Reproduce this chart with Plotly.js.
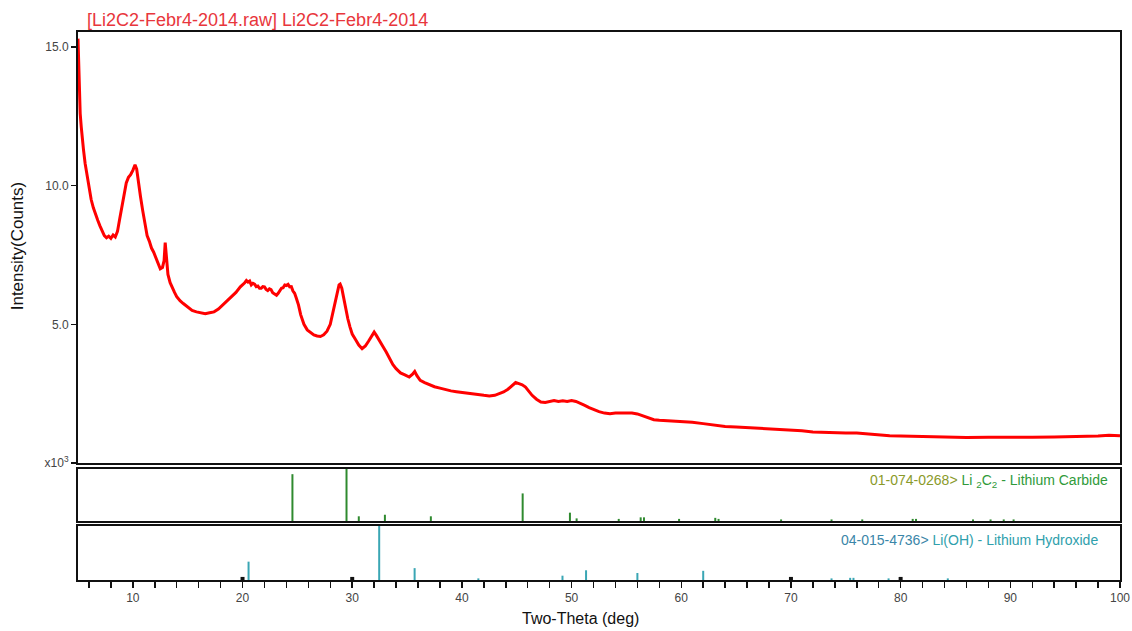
<!DOCTYPE html>
<html>
<head>
<meta charset="utf-8">
<script src="https://cdn.plot.ly/plotly-3.0.1.min.js"></script>
<style>html,body{margin:0;padding:0;background:#fff;}#chart{width:1132px;height:631px;}</style>
</head>
<body>
<div id="chart"></div>
<script>
// Measured pattern (2-theta in degrees, intensity in thousands of counts)
const twoTheta = [5.0,5.05,5.1,5.15,5.2,5.3,5.4,5.5,5.65,5.8,6.0,6.2,6.4,6.6,6.8,7.0,7.2,7.4,7.6,7.8,8.0,8.2,8.4,8.6,8.8,9.0,9.2,9.4,9.6,9.8,10.0,10.2,10.35,10.5,10.7,10.9,11.1,11.3,11.5,11.7,11.9,12.1,12.3,12.5,12.7,12.85,12.95,13.05,13.2,13.4,13.6,13.8,14.0,14.3,14.6,15.0,15.4,15.8,16.2,16.6,17.0,17.4,17.8,18.2,18.6,19.0,19.4,19.8,20.0,20.2,20.35,20.5,20.65,20.8,20.95,21.1,21.25,21.4,21.55,21.7,21.85,22.0,22.15,22.3,22.45,22.6,22.75,22.9,23.1,23.25,23.4,23.55,23.7,23.85,24.0,24.15,24.3,24.45,24.6,24.75,24.9,25.1,25.3,25.6,25.9,26.2,26.5,26.8,27.1,27.4,27.7,28.0,28.3,28.5,28.7,28.8,28.9,29.05,29.2,29.4,29.6,29.8,30.0,30.3,30.6,30.9,31.2,31.5,31.8,32.0,32.2,32.5,32.8,33.1,33.4,33.7,34.0,34.4,34.8,35.2,35.5,35.7,35.9,36.2,36.6,37.0,37.5,38.0,38.5,39.0,39.5,40.0,40.5,41.0,41.5,42.0,42.5,43.0,43.4,43.8,44.2,44.6,44.9,45.2,45.5,45.8,46.1,46.4,46.8,47.2,47.6,48.0,48.4,48.8,49.2,49.6,50.0,50.4,50.8,51.2,51.6,52.0,52.5,53.0,53.5,54.0,54.5,55.0,55.5,56.0,56.5,57.0,57.5,58.0,59.0,60.0,61.0,62.0,63.0,64.0,65.0,66.0,67.0,68.0,69.0,70.0,71.0,72.0,73.0,74.0,75.0,76.0,77.0,78.0,79.0,80.0,82.0,84.0,86.0,88.0,90.0,92.0,94.0,96.0,98.0,99.0,100.0];
const intensity = [15.3,14.6,13.6,12.9,12.6,12.1,11.6,11.3,10.8,10.4,9.9,9.5,9.2,8.95,8.75,8.55,8.4,8.2,8.12,8.18,8.1,8.22,8.15,8.35,8.8,9.2,9.7,10.1,10.3,10.4,10.55,10.75,10.6,10.1,9.6,9.1,8.6,8.2,8.0,7.75,7.6,7.4,7.2,7.0,7.05,7.3,7.95,7.4,6.8,6.5,6.3,6.15,6.0,5.85,5.75,5.62,5.5,5.45,5.42,5.38,5.42,5.45,5.55,5.7,5.85,6.0,6.15,6.35,6.42,6.5,6.58,6.52,6.56,6.42,6.48,6.45,6.36,6.38,6.3,6.3,6.36,6.35,6.26,6.22,6.28,6.25,6.14,6.1,6.05,6.12,6.2,6.3,6.32,6.42,6.4,6.44,6.35,6.36,6.2,6.12,5.95,5.7,5.35,5.0,4.8,4.7,4.62,4.58,4.56,4.62,4.75,5.0,5.5,5.9,6.25,6.42,6.45,6.3,6.0,5.55,5.2,4.9,4.65,4.45,4.25,4.12,4.22,4.4,4.6,4.72,4.6,4.42,4.2,4.0,3.78,3.55,3.4,3.25,3.18,3.1,3.2,3.3,3.15,2.98,2.9,2.82,2.75,2.7,2.64,2.6,2.57,2.54,2.52,2.48,2.46,2.44,2.42,2.44,2.5,2.56,2.66,2.8,2.9,2.86,2.82,2.74,2.58,2.44,2.3,2.2,2.18,2.22,2.25,2.22,2.24,2.22,2.25,2.22,2.16,2.08,2.0,1.92,1.85,1.8,1.78,1.8,1.8,1.82,1.8,1.77,1.7,1.62,1.56,1.54,1.52,1.5,1.47,1.42,1.36,1.32,1.3,1.28,1.26,1.24,1.22,1.18,1.16,1.12,1.1,1.09,1.08,1.08,1.05,1.0,0.98,0.97,0.95,0.93,0.92,0.93,0.92,0.93,0.94,0.95,0.97,1.0,0.98];

// Reference pattern 01-074-0268 Li2C2 (relative intensity %)
const carbidePos = [24.55,29.48,30.6,32.98,37.17,45.54,49.85,50.46,54.3,56.3,56.6,59.8,63.1,63.4,69.1,73.7,76.5,81.1,81.4,86.6,88.2,89.4,90.3];
const carbideInt = [90,100,9,12,9,53,16,5,4,7,7,4,6,4,3,3,3,4,4,3,3,3,3];

// Reference pattern 04-015-4736 Li(OH) (relative intensity %)
const hydroxPos = [20.55,32.46,35.69,41.5,49.17,51.32,56.0,62.0,73.7,75.4,75.7,78.9,84.3];
const hydroxInt = [34,100,22,3,8,18,13,17,3,4,4,3,3];

// small black marks on the bottom axis
const markPos = [20,30,70,80];
const markVal = [2,2,2,2];

const xTickVals = [10,20,30,40,50,60,70,80,90,100];
const yTickVals = [0,5,10,15];
const yTickText = ['x10<sup>3</sup>','5.0','10.0','15.0'];

function sticks(pos, val){
  const xs=[], ys=[];
  for(let i=0;i<pos.length;i++){ xs.push(pos[i],pos[i],null); ys.push(0,val[i],null); }
  return {xs, ys};
}
const c = sticks(carbidePos, carbideInt);
const h = sticks(hydroxPos, hydroxInt);

const traces = [
  {x: twoTheta, y: intensity, type:'scatter', mode:'lines', line:{color:'#ff0000', width:3}, xaxis:'x', yaxis:'y'},
  {x: c.xs, y: c.ys, type:'scatter', mode:'lines', line:{color:'#2f8a2f', width:2}, xaxis:'x2', yaxis:'y2', connectgaps:false},
  {x: h.xs, y: h.ys, type:'scatter', mode:'lines', line:{color:'#3aa6b4', width:2}, xaxis:'x3', yaxis:'y3', connectgaps:false},
  {x: markPos, y: markVal, type:'scatter', mode:'markers', marker:{color:'#111', size:4, symbol:'square'}, xaxis:'x3', yaxis:'y3', cliponaxis:false}
];

const frame = {showline:true, mirror:true, linecolor:'#111', linewidth:2, showgrid:false, zeroline:false};
const tickFont = {family:'Liberation Sans, Arial, sans-serif', size:12, color:'#444'};

const layout = {
  width:1132, height:631,
  margin:{l:78, r:12, t:32, b:51},
  paper_bgcolor:'#fff', plot_bgcolor:'#fff',
  showlegend:false,
  font:{family:'Liberation Sans, Arial, sans-serif'},
  xaxis: Object.assign({}, frame, {range:[5,100], anchor:'y', showticklabels:false, ticks:''}),
  yaxis: Object.assign({}, frame, {domain:[0.2135,1], range:[0,15.54], tickvals:yTickVals, ticktext:yTickText, ticks:'outside', ticklen:5, tickwidth:1.5, tickcolor:'#111', tickfont:tickFont}),
  xaxis2: Object.assign({}, frame, {range:[5,100], anchor:'y2', showticklabels:false, ticks:''}),
  yaxis2: Object.assign({}, frame, {domain:[0.1077,0.2026], range:[0,100], showticklabels:false, ticks:''}),
  xaxis3: Object.assign({}, frame, {range:[5,100], anchor:'y3', tickvals:xTickVals, ticks:'outside', ticklen:6, tickwidth:1.5, tickcolor:'#111', tickfont:tickFont,
           minor:{dtick:2, tick0:0, ticks:'outside', ticklen:6, tickwidth:1.5, tickcolor:'#111', showgrid:false}}),
  yaxis3: Object.assign({}, frame, {domain:[0,0.0985], range:[0,100], showticklabels:false, ticks:''}),
  annotations:[
    {text:'[Li2C2-Febr4-2014.raw] Li2C2-Febr4-2014', xref:'paper', yref:'paper', x:0.007, y:1.0219, xanchor:'left', yanchor:'middle', showarrow:false,
     font:{size:18, color:'#e8363c'}},
    {text:'Intensity(Counts)', xref:'paper', yref:'paper', x:-0.058, y:0.61, xanchor:'center', yanchor:'middle', textangle:-90, showarrow:false,
     font:{size:17, color:'#111'}},
    {text:'Two-Theta (deg)', xref:'paper', yref:'paper', x:0.482, y:-0.07, xanchor:'center', yanchor:'middle', showarrow:false,
     font:{size:16, color:'#111'}},
    {text:'<span style="color:#8a9a2a">01-074-0268></span> Li <sub>2</sub>C<sub>2</sub> - Lithium Carbide', xref:'paper', yref:'paper', x:0.9904, y:0.1807, xanchor:'right', yanchor:'middle', showarrow:false,
     font:{size:14, color:'#2f9a3a'}},
    {text:'<span style="color:#3a86a8">04-015-4736></span> Li(OH) - Lithium Hydroxide', xref:'paper', yref:'paper', x:0.9808, y:0.073, xanchor:'right', yanchor:'middle', showarrow:false,
     font:{size:14, color:'#2fa0ac'}}
  ]
};

Plotly.newPlot('chart', traces, layout, {displayModeBar:false, staticPlot:true});
</script>
</body>
</html>
